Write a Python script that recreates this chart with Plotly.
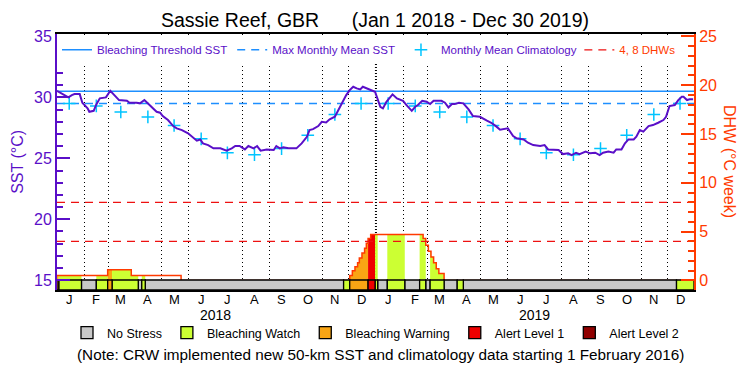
import pandas as pd
import plotly.graph_objects as go

# ---------------- data ----------------
period = ["2018-01-01", "2019-12-31"]

sst_dates = [
    "2018-01-01","2018-01-06","2018-01-10","2018-01-14","2018-01-18","2018-01-21","2018-01-27","2018-01-30",
    "2018-02-05","2018-02-07","2018-02-12","2018-02-15","2018-02-19","2018-02-26",
    "2018-03-03","2018-03-08","2018-03-13","2018-03-22","2018-03-25",
    "2018-04-02","2018-04-06","2018-04-11","2018-04-14","2018-04-19","2018-04-25","2018-04-29",
    "2018-05-02","2018-05-08","2018-05-14","2018-05-18","2018-05-24","2018-05-31",
    "2018-06-06","2018-06-10","2018-06-14","2018-06-17","2018-06-23","2018-06-29",
    "2018-07-07","2018-07-14","2018-07-20","2018-07-24","2018-07-29",
    "2018-08-04","2018-08-08","2018-08-10","2018-08-14","2018-08-18","2018-08-22","2018-08-29",
    "2018-09-06","2018-09-09","2018-09-13","2018-09-17","2018-09-23",
    "2018-10-02","2018-10-08","2018-10-14","2018-10-17","2018-10-21","2018-10-27","2018-10-31",
    "2018-11-05","2018-11-09","2018-11-15","2018-11-18","2018-11-23","2018-11-28",
    "2018-12-02","2018-12-06","2018-12-10","2018-12-14","2018-12-17","2018-12-21","2018-12-27","2018-12-31",
    "2019-01-06","2019-01-09","2019-01-13","2019-01-20","2019-01-25",
    "2019-02-01","2019-02-05","2019-02-11","2019-02-15","2019-02-18","2019-02-23","2019-02-28",
    "2019-03-04","2019-03-08","2019-03-17","2019-03-21","2019-03-25","2019-03-29",
    "2019-04-01","2019-04-06","2019-04-11","2019-04-17","2019-04-22","2019-04-30",
    "2019-05-08","2019-05-13","2019-05-19","2019-05-23",
    "2019-06-01","2019-06-07","2019-06-11","2019-06-19","2019-06-24","2019-06-30",
    "2019-07-08","2019-07-13","2019-07-17","2019-07-29",
    "2019-08-03","2019-08-09","2019-08-13","2019-08-18","2019-08-22","2019-08-29",
    "2019-09-03","2019-09-09","2019-09-14","2019-09-18","2019-09-24","2019-09-30",
    "2019-10-03","2019-10-09","2019-10-13","2019-10-17","2019-10-23","2019-10-26","2019-10-30",
    "2019-11-03","2019-11-09","2019-11-14","2019-11-20","2019-11-26","2019-11-29",
    "2019-12-03","2019-12-09","2019-12-13","2019-12-17","2019-12-19","2019-12-23","2019-12-26","2019-12-30",
]
sst_values = [
    30.54, 30.33, 30.11, 30.0, 30.19, 30.27, 30.27, 29.56,
    29.1, 28.82, 28.9, 29.42, 29.92, 30.0,
    30.54, 30.19, 29.78, 29.72, 29.56,
    29.56, 29.51, 29.78, 29.56, 29.23, 28.82, 28.74,
    28.47, 28.14, 27.65, 27.46, 27.32, 27.05,
    26.72, 26.45, 26.55, 26.23, 26.09, 25.82,
    25.82, 25.63, 25.82, 26.01, 26.01,
    25.73, 26.01, 25.95, 25.82, 26.01, 25.63, 25.73,
    25.68, 26.01, 25.82, 25.9, 25.82,
    25.82, 26.23, 26.77, 27.32, 27.4, 27.65, 28.0,
    27.95, 28.2, 28.41, 28.82, 29.51, 30.19,
    30.6, 30.87, 30.74, 30.65, 30.87, 30.74, 30.54, 30.46,
    29.23, 29.1, 29.64, 30.25, 29.92,
    29.72, 29.37, 28.9, 29.23, 29.37, 29.72, 29.64,
    29.45, 29.72, 29.72, 29.56, 29.18, 29.45,
    29.45, 29.56, 29.51, 29.01, 28.47, 28.41,
    28.09, 27.92, 27.6, 27.35,
    27.46, 26.83, 26.64, 26.55, 26.28, 26.09,
    26.01, 26.09, 25.73, 25.68,
    25.35, 25.41, 25.27, 25.46, 25.35, 25.55,
    25.41, 25.46, 25.27, 25.46, 25.55, 25.46,
    25.73, 25.73, 26.23, 26.55, 26.55, 26.77, 27.32,
    27.19, 27.65, 27.73, 27.92, 28.14, 28.41,
    29.29, 29.37, 29.78, 30.05, 30.05, 29.78, 29.84, 29.84,
]

# monthly mean climatology (Jan..Dec), repeated for each year
clim_values = [29.5, 29.3, 28.8, 28.4, 27.7, 26.6, 25.45, 25.3, 25.8, 26.9, 28.6, 29.5]
max_monthly_mean = 29.5
bleaching_threshold = 30.5

# Degree Heating Weeks (step changes)
dhw_dates = [
    "2018-01-01","2018-02-28","2018-03-27","2018-05-23",
    "2018-12-02","2018-12-05","2018-12-08","2018-12-11","2018-12-13","2018-12-16",
    "2018-12-19","2018-12-21","2018-12-23","2018-12-26",
    "2019-02-24","2019-02-27","2019-03-02","2019-03-05","2019-03-08","2019-03-11",
    "2019-03-14","2019-03-20","2019-12-31",
]
dhw_values = [
    0.5, 1.1, 0.5, 0.0,
    0.5, 1.0, 1.4, 1.8, 2.3, 2.8,
    3.3, 3.8, 4.3, 4.7,
    4.3, 3.6, 3.0, 2.4, 1.8, 1.2,
    0.7, 0.0, 0.0,
]
dhw_levels = [4, 8]

# daily stress level periods (start dates); 0 no stress, 1 watch, 2 warning, 3 alert 1, 4 alert 2
alert_starts = [
    "2018-01-01","2018-01-03","2018-01-29","2018-02-15","2018-02-28","2018-03-05",
    "2018-04-04","2018-04-08","2018-04-12","2018-11-25","2018-12-02","2018-12-23",
    "2018-12-31","2019-01-03","2019-01-14","2019-02-03","2019-02-20","2019-02-27",
    "2019-03-04","2019-03-20","2019-04-04","2019-04-11","2019-12-11",
]
alert_levels = [2, 1, 0, 1, 2, 1, 0, 1, 0, 1, 2, 3, 1, 0, 1, 0, 1, 0, 1, 0, 1, 0, 1]
level_names = ["No Stress", "Bleaching Watch", "Bleaching Warning", "Alert Level 1", "Alert Level 2"]

month_letters = ["J", "F", "M", "A", "M", "J", "J", "A", "S", "O", "N", "D"] * 2
year_labels = ["2018", "2019"]

# ---------------- styles ----------------
PURPLE = "#5a0fc8"
ORANGE_RED = "#ff3a00"
BLUE = "#1e8fff"
CYAN = "#00c4ff"
DASH_RED = "#ee1111"
level_colors = ["#c8c8c8", "#ccff33", "#f9a514", "#ee0000", "#900000"]
FONT = "Liberation Sans"

t0, t1 = pd.Timestamp(period[0]), pd.Timestamp(period[1])
dhw_t = [pd.Timestamp(d) for d in dhw_dates]


def dhw_at(t):
    v = 0.0
    for dd, vv in zip(dhw_t, dhw_values):
        if dd <= t:
            v = vv
        else:
            break
    return v


starts = [pd.Timestamp(s) for s in alert_starts]
ends = starts[1:] + [t1]

fig = go.Figure()

# DHW fill by stress level
for s, e, lev in zip(starts, ends, alert_levels):
    if lev == 0:
        continue
    xs = [s] + [d for d in dhw_t if s < d < e]
    ys = [dhw_at(x) for x in xs]
    xs = xs + [e]
    ys = ys + [ys[-1]]
    if max(ys) <= 0:
        continue
    fig.add_trace(go.Scatter(x=xs, y=ys, yaxis="y2", mode="lines", line_shape="hv",
                             line=dict(width=0), fill="tozeroy",
                             fillcolor=level_colors[lev], showlegend=False, hoverinfo="skip"))

# DHW outline
fig.add_trace(go.Scatter(x=dhw_t, y=dhw_values, yaxis="y2", mode="lines", line_shape="hv",
                         line=dict(color=ORANGE_RED, width=1.5), showlegend=False))

# threshold lines
fig.add_trace(go.Scatter(x=period, y=[bleaching_threshold] * 2, mode="lines",
                         line=dict(color=BLUE, width=1.5),
                         name="Bleaching Threshold SST", legend="legend"))
fig.add_trace(go.Scatter(x=period, y=[max_monthly_mean] * 2, mode="lines",
                         line=dict(color=BLUE, width=1.5, dash="8px,6px"),
                         name="Max Monthly Mean SST", legend="legend"))

# climatology
clim_x = [t0 + pd.DateOffset(months=i) + pd.Timedelta(days=14) for i in range(24)]
fig.add_trace(go.Scatter(x=clim_x, y=clim_values * 2, mode="markers",
                         marker=dict(symbol="cross-thin", size=9,
                                     line=dict(color=CYAN, width=1.5)),
                         name="Monthly Mean Climatology", legend="legend3"))

# DHW reference levels
for i, lv in enumerate(dhw_levels):
    fig.add_trace(go.Scatter(x=period, y=[lv, lv], yaxis="y2", mode="lines",
                             line=dict(color=DASH_RED, width=1.3, dash="8px,6px"),
                             name="<span style='color:%s'>4, 8 DHWs</span>" % ORANGE_RED,
                             legend="legend4", showlegend=(i == 0)))

# SST
fig.add_trace(go.Scatter(x=sst_dates, y=sst_values, mode="lines",
                         line=dict(color=PURPLE, width=2), showlegend=False))

# stress level bar
for lev, name in enumerate(level_names):
    segs = [(s, e) for s, e, l in zip(starts, ends, alert_levels) if l == lev]
    mids = [s + (e - s) / 2 for s, e in segs]
    widths = [(e - s).total_seconds() * 1000 for s, e in segs]
    fig.add_trace(go.Bar(x=mids if mids else [None], y=[1] * len(mids) if mids else [None],
                         base=0, width=widths if widths else None, yaxis="y3",
                         marker=dict(color=level_colors[lev], line=dict(color="black", width=1.3)),
                         name=name, legend="legend2"))

top_legend = dict(orientation="h", yanchor="top", y=0.995, xanchor="left",
                  bgcolor="white", font=dict(size=11.5, color=PURPLE, family=FONT),
                  itemwidth=30)

fig.update_layout(
    width=750, height=375,
    margin=dict(l=57, r=56, t=34, b=85, autoexpand=False),
    paper_bgcolor="white", plot_bgcolor="white",
    barmode="overlay",
    font=dict(family=FONT, color="black"),
    title=dict(text="Sassie Reef, GBR\u00a0\u00a0\u00a0\u00a0\u00a0\u00a0(Jan 1 2018 - Dec 30 2019)",
               x=0.5, xanchor="center", y=0.947, yanchor="middle",
               font=dict(size=19.5, color="black", family=FONT)),
    xaxis=dict(type="date", range=[t0, t1], automargin=False,
               showticklabels=False, ticks="",
               showgrid=False, zeroline=False,
               showline=True, linecolor="black", linewidth=1.5, mirror=True,
               minor=dict(dtick="M1", tick0=period[0], showgrid=True, gridcolor="black",
                          gridwidth=1, griddash="1px,3px", ticks="")),
    yaxis=dict(range=[14.2, 35.2], dtick=5, tick0=0, ticks="inside", ticklen=13, tickwidth=1.5,
               automargin=False,
               tickcolor=PURPLE, showline=True, linecolor=PURPLE, linewidth=2,
               tickfont=dict(size=16, color=PURPLE), showgrid=False, zeroline=False,
               minor=dict(dtick=1, tick0=0, ticks="inside", ticklen=6, tickwidth=1.5,
                          tickcolor=PURPLE, showgrid=False)),
    yaxis2=dict(range=[-0.98, 25.25], overlaying="y", side="right", dtick=5, tick0=0,
                automargin=False,
                ticks="inside", ticklen=13, tickwidth=1.5, tickcolor=ORANGE_RED,
                showline=True, linecolor=ORANGE_RED, linewidth=2,
                tickfont=dict(size=16, color=ORANGE_RED), showgrid=False, zeroline=False,
                minor=dict(dtick=1, tick0=0, ticks="inside", ticklen=6, tickwidth=1.5,
                           tickcolor=ORANGE_RED, showgrid=False)),
    yaxis3=dict(range=[0, 25.6], overlaying="y", visible=False, automargin=False),
    legend=dict(top_legend, x=0.0),
    legend3=dict(top_legend, x=0.54),
    legend4=dict(top_legend, x=0.82),
    legend2=dict(orientation="h", x=0.5, xanchor="center", y=-0.168, yanchor="middle",
                 bgcolor="rgba(0,0,0,0)", font=dict(size=12.5, color="black", family=FONT),
                 itemwidth=30),
    showlegend=True,
)

# month letters
for xm, ml in zip(clim_x, month_letters):
    fig.add_annotation(x=xm, y=-0.039, xref="x", yref="paper", yanchor="middle",
                       text=ml, showarrow=False, font=dict(size=13, color="black"))

# year labels
for i, yl in enumerate(year_labels):
    fig.add_annotation(x=t0 + pd.DateOffset(years=i, months=6), y=-0.098, xref="x", yref="paper",
                       yanchor="middle", text=yl, showarrow=False, font=dict(size=14, color="black"))

# heavier year boundary
fig.add_shape(type="line", x0=t0 + pd.DateOffset(years=1), x1=t0 + pd.DateOffset(years=1),
              y0=0, y1=1, xref="x", yref="paper", layer="below",
              line=dict(color="black", width=2, dash="1px,2px"))

fig.add_annotation(x=-0.063, y=0.5, xref="paper", yref="paper", xanchor="center", yanchor="middle",
                   text="SST (°C)", textangle=-90,
                   showarrow=False, font=dict(size=16, color=PURPLE))
fig.add_annotation(x=1.0565, y=0.5, xref="paper", yref="paper", xanchor="center", yanchor="middle",
                   text="DHW (°C week)", textangle=90,
                   showarrow=False, font=dict(size=16, color=ORANGE_RED))
fig.add_annotation(x=0.508, y=-0.25, xref="paper", yref="paper", yanchor="middle",
                   text="(Note: CRW implemented new 50-km SST and climatology data starting 1 February 2016)",
                   showarrow=False, font=dict(size=15.3, color="black"))

fig.write_html(
    "out.html",
    config={"displayModeBar": False},
    post_script="document.body.style.margin='0px';document.documentElement.style.overflow='hidden';",
)
